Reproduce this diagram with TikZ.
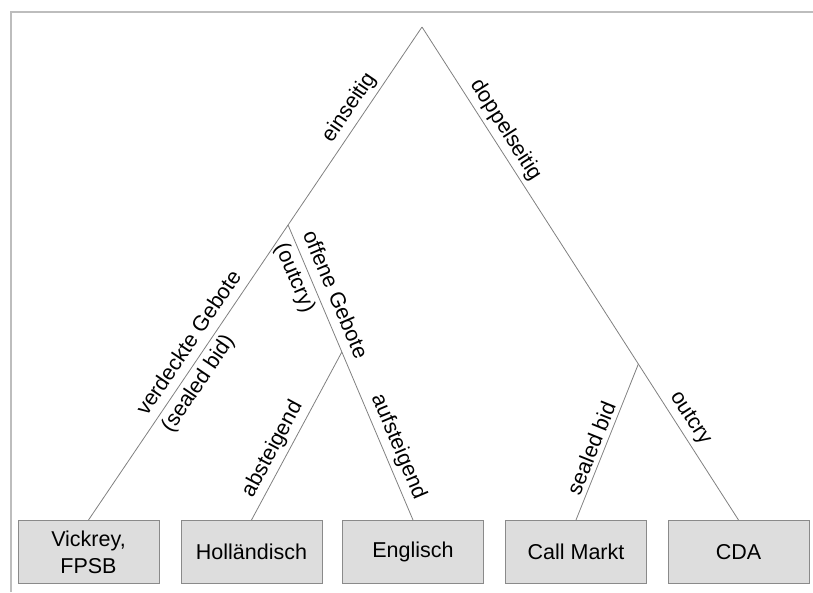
\documentclass[tikz,border=0pt]{standalone}
\usepackage{fontspec}
\setmainfont{Liberation Sans}
\usetikzlibrary{calc}
\definecolor{boxfill}{HTML}{DDDDDD}
\definecolor{boxline}{HTML}{8A8A8A}
\definecolor{treeline}{HTML}{808080}
\definecolor{framegray}{HTML}{BDBDBD}
\newcommand{\lblfont}{\fontsize{21.5}{27}\selectfont}
\newcommand{\pairfont}{\fontsize{21.5}{30}\selectfont}
\begin{document}
\begin{tikzpicture}[x=1pt,y=-1pt,
  leaf/.style={draw=boxline, fill=boxfill, line width=1pt, minimum width=141pt,
    minimum height=63pt, inner sep=0pt, align=center, font=\lblfont},
  branch/.style={draw=treeline, line width=0.8pt},
  lbl/.style={sloped, above, inner sep=4.5pt, font=\lblfont},
  lbltwo/.style={sloped, align=left, inner sep=0pt, font=\pairfont},
  frameline/.style={draw=framegray, line width=2pt}]
\useasboundingbox (0,0) rectangle (813,592);

% partial frame along the top and left edges
\draw[frameline] (11,592) -- (11,12) -- (813,12);

% leaves
\node[leaf] (vick) at (88.5,552) {Vickrey,\\FPSB};
\node[leaf] (holl) at (251.5,552) {Holländisch};
\node[leaf] (engl) at (413,552) {Englisch};
\node[leaf] (call) at (576,552) {Call Markt};
\node[leaf] (cda)  at (738.5,552) {CDA};

% root and branching points
\coordinate (root) at (422,27);
\coordinate (s1) at ($(root)!0.4016!(vick.north)$);
\coordinate (s2) at ($(root)!0.6836!(cda.north)$);
\coordinate (s3) at ($(s1)!0.4305!(engl.north)$);

% tree edges
\draw[branch] (root) -- (s1) node[lbl, pos=0.45] {einseitig};
\draw[branch] (s1) -- (vick.north)
  node[lbltwo, pos=0.43] {verdeckte Gebote\\(sealed bid)};
\draw[branch] (s1) -- (s3)
  node[lbltwo, pos=0.6] {offene Gebote\\(outcry)};
\draw[branch] (s3) -- (holl.north) node[lbl, pos=0.62] {absteigend};
\draw[branch] (s3) -- (engl.north) node[lbl, pos=0.6] {aufsteigend};
\draw[branch] (root) -- (s2) node[lbl, pos=0.33] {doppelseitig};
\draw[branch] (s2) -- (call.north) node[lbl, pos=0.57] {sealed bid};
\draw[branch] (s2) -- (cda.north) node[lbl, pos=0.4] {outcry};
\end{tikzpicture}
\end{document}
